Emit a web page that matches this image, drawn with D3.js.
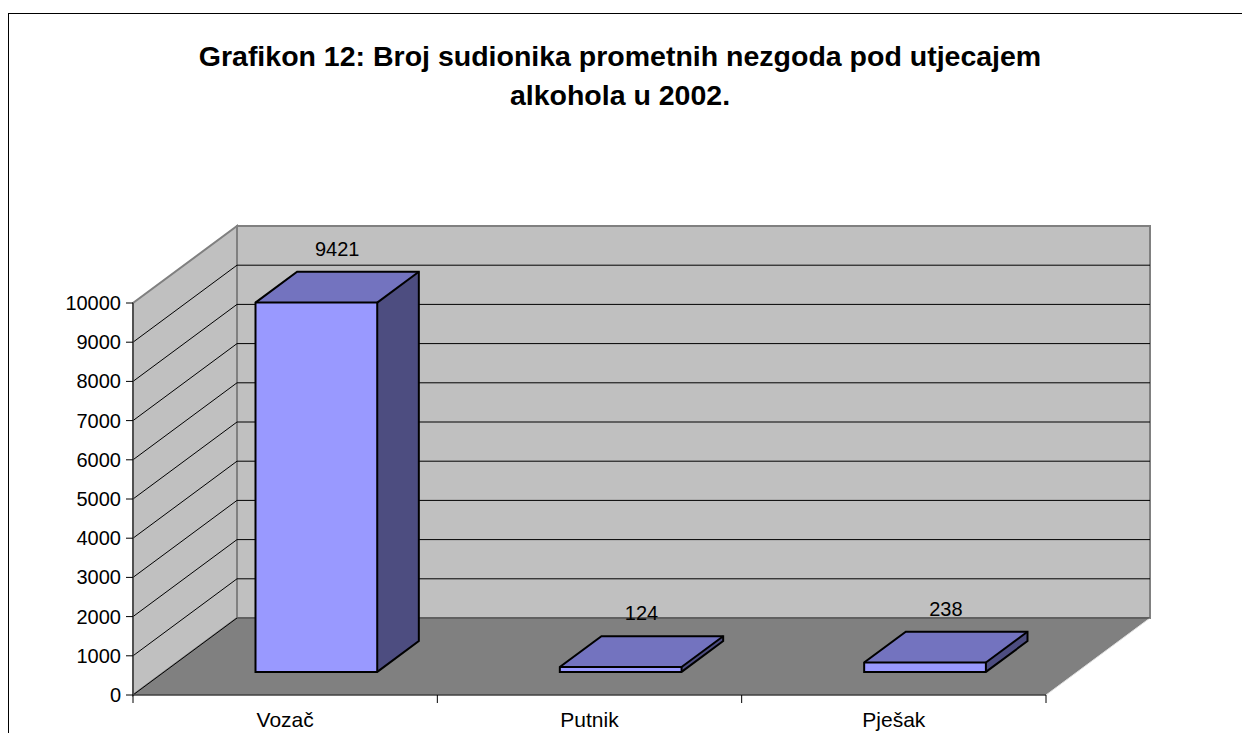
<!DOCTYPE html>
<html>
<head>
<meta charset="utf-8">
<script src="https://cdn.jsdelivr.net/npm/d3@7"></script>
<style>
  body { margin: 0; background: #fff; }
  svg text { font-family: "Liberation Sans", Arial, sans-serif; }
</style>
</head>
<body>
<div id="chart"></div>
<script>
// chart data
const titleLines = ["Grafikon 12: Broj sudionika prometnih nezgoda pod utjecajem", "alkohola u 2002."];
const categories = ["Vozač", "Putnik", "Pješak"];
const values = [9421, 124, 238];
const yTickValues = [0, 1000, 2000, 3000, 4000, 5000, 6000, 7000, 8000, 9000, 10000];

const width = 1242, height = 733;
const depthX = 104, depthY = -77;   // back wall offset
const barDepth = [0.3, 0.7];          // bar position in depth (0 = front, 1 = back)
const barSpan = [0.3, 0.7];           // bar position inside its category band

const svg = d3.select("#chart").append("svg")
  .attr("width", width)
  .attr("height", height);

// outer frame
svg.append("rect")
  .attr("x", 8.5).attr("y", 13.5)
  .attr("width", 1260).attr("height", 760)
  .attr("fill", "#fff").attr("stroke", "#000").attr("stroke-width", 1);

const xScale = d3.scaleLinear().domain([0, categories.length]).range([133, 1046]);
const yScale = d3.scaleLinear().domain([0, 10000]).range([695, 303]);

// project (category position, value, depth) onto the screen
const pt = (c, v, d) => [xScale(c) + d * depthX, yScale(v) + d * depthY];
const poly = pts => pts.map(p => p.join(",")).join(" ");

const yMax = d3.max(yTickValues);
const nCat = categories.length;

// side wall
svg.append("polygon")
  .attr("points", poly([pt(0, 0, 0), pt(0, yMax, 0), pt(0, yMax, 1), pt(0, 0, 1)]))
  .attr("fill", "#c0c0c0").attr("stroke", "#808080").attr("stroke-width", 2);

// back wall
svg.append("polygon")
  .attr("points", poly([pt(0, 0, 1), pt(0, yMax, 1), pt(nCat, yMax, 1), pt(nCat, 0, 1)]))
  .attr("fill", "#c0c0c0").attr("stroke", "#808080").attr("stroke-width", 2);

// grid lines
const gridVals = yTickValues.filter(v => v > 0 && v < yMax);
svg.append("g").selectAll("polyline")
  .data(gridVals)
  .join("polyline")
  .attr("points", v => poly([pt(0, v, 0), pt(0, v, 1), pt(nCat, v, 1)]))
  .attr("fill", "none").attr("stroke", "#000").attr("stroke-width", 1);

// floor
svg.append("polygon")
  .attr("points", poly([pt(0, 0, 0), pt(nCat, 0, 0), pt(nCat, 0, 1), pt(0, 0, 1)]))
  .attr("fill", "#808080").attr("stroke", "none");
svg.append("line")
  .attr("x1", pt(0, 0, 0)[0]).attr("y1", pt(0, 0, 0)[1])
  .attr("x2", pt(0, 0, 1)[0]).attr("y2", pt(0, 0, 1)[1])
  .attr("stroke", "#000").attr("stroke-width", 1);
svg.append("line")
  .attr("x1", pt(nCat, 0, 0)[0]).attr("y1", pt(nCat, 0, 0)[1])
  .attr("x2", pt(nCat, 0, 1)[0]).attr("y2", pt(nCat, 0, 1)[1])
  .attr("stroke", "#e0e0e0").attr("stroke-width", 1);
svg.append("line")
  .attr("x1", pt(0, 0, 1)[0]).attr("y1", pt(0, 0, 1)[1])
  .attr("x2", pt(nCat, 0, 1)[0]).attr("y2", pt(nCat, 0, 1)[1])
  .attr("stroke", "#404040").attr("stroke-width", 1);

// bars
const bars = svg.append("g").selectAll("g.bar")
  .data(values.map((v, i) => ({ v, i })))
  .join("g")
  .attr("class", "bar");

const c0 = d => d.i + barSpan[0], c1 = d => d.i + barSpan[1];

bars.append("polygon")
  .attr("points", d => poly([pt(c0(d), 0, barDepth[0]), pt(c1(d), 0, barDepth[0]), pt(c1(d), d.v, barDepth[0]), pt(c0(d), d.v, barDepth[0])]))
  .attr("fill", "#9999ff");
bars.append("polygon")
  .attr("points", d => poly([pt(c0(d), d.v, barDepth[0]), pt(c1(d), d.v, barDepth[0]), pt(c1(d), d.v, barDepth[1]), pt(c0(d), d.v, barDepth[1])]))
  .attr("fill", "#7373bf");
bars.append("polygon")
  .attr("points", d => poly([pt(c1(d), 0, barDepth[0]), pt(c1(d), 0, barDepth[1]), pt(c1(d), d.v, barDepth[1]), pt(c1(d), d.v, barDepth[0])]))
  .attr("fill", "#4d4d80");
// outline
bars.append("polygon")
  .attr("points", d => poly([
    pt(c0(d), 0, barDepth[0]), pt(c1(d), 0, barDepth[0]), pt(c1(d), 0, barDepth[1]),
    pt(c1(d), d.v, barDepth[1]), pt(c0(d), d.v, barDepth[1]), pt(c0(d), d.v, barDepth[0])]))
  .attr("fill", "none").attr("stroke", "#000").attr("stroke-width", 2).attr("stroke-linejoin", "miter");
bars.append("polyline")
  .attr("points", d => poly([pt(c0(d), d.v, barDepth[0]), pt(c1(d), d.v, barDepth[0]), pt(c1(d), 0, barDepth[0])]))
  .attr("fill", "none").attr("stroke", "#000").attr("stroke-width", 2);
bars.append("line")
  .attr("x1", d => pt(c1(d), d.v, barDepth[0])[0]).attr("y1", d => pt(c1(d), d.v, barDepth[0])[1])
  .attr("x2", d => pt(c1(d), d.v, barDepth[1])[0]).attr("y2", d => pt(c1(d), d.v, barDepth[1])[1])
  .attr("stroke", "#000").attr("stroke-width", 2);

// value labels
bars.append("text")
  .attr("x", d => pt(d.i + 0.5, d.v, 0.5)[0])
  .attr("y", d => pt(d.i + 0.5, d.v, barDepth[1])[1] - 16)
  .attr("text-anchor", "middle")
  .attr("font-size", 20)
  .text(d => d.v);

// value axis
const yAxis = svg.append("g");
yAxis.append("line")
  .attr("x1", 133).attr("x2", 133)
  .attr("y1", yScale(yMax)).attr("y2", yScale(0))
  .attr("stroke", "#404040").attr("stroke-width", 1.5);
yAxis.selectAll("line.tick")
  .data(yTickValues)
  .join("line")
  .attr("class", "tick")
  .attr("x1", 126).attr("x2", 133)
  .attr("y1", d => yScale(d)).attr("y2", d => yScale(d))
  .attr("stroke", "#000");
yAxis.selectAll("text")
  .data(yTickValues)
  .join("text")
  .attr("x", 121)
  .attr("y", d => yScale(d) + 7)
  .attr("text-anchor", "end")
  .attr("font-size", 20)
  .text(d => d);

// category axis
const xAxis = svg.append("g");
xAxis.append("line")
  .attr("x1", xScale(0)).attr("x2", xScale(nCat))
  .attr("y1", yScale(0)).attr("y2", yScale(0))
  .attr("stroke", "#404040").attr("stroke-width", 1.5);
xAxis.selectAll("line.tick")
  .data(d3.range(nCat + 1))
  .join("line")
  .attr("class", "tick")
  .attr("x1", d => xScale(d)).attr("x2", d => xScale(d))
  .attr("y1", yScale(0)).attr("y2", yScale(0) + 8)
  .attr("stroke", "#000");
xAxis.selectAll("text")
  .data(categories)
  .join("text")
  .attr("x", (d, i) => xScale(i + 0.5))
  .attr("y", 727)
  .attr("text-anchor", "middle")
  .attr("font-size", 21)
  .text(d => d);

// title
svg.append("g").selectAll("text")
  .data(titleLines)
  .join("text")
  .attr("x", 620)
  .attr("y", (d, i) => 66 + i * 39)
  .attr("text-anchor", "middle")
  .attr("font-size", 28.5)
  .attr("font-weight", "bold")
  .text(d => d);
</script>
</body>
</html>
